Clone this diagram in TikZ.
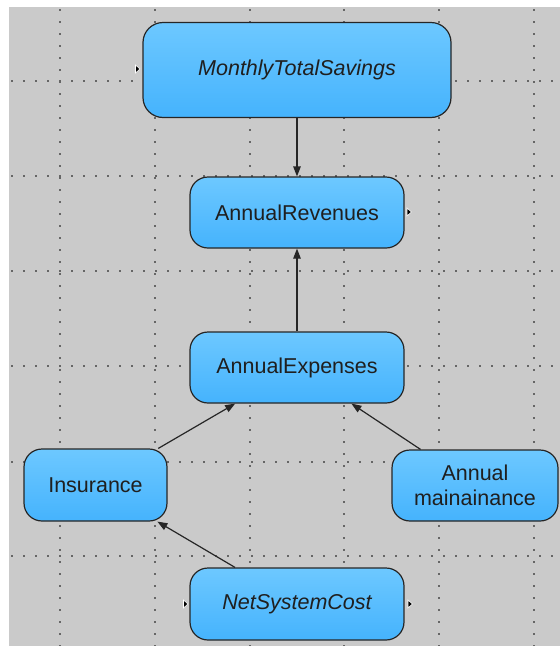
\documentclass[tikz,border=0pt]{standalone}
\usepackage{fontspec}
\setmainfont{Liberation Sans}
\usetikzlibrary{arrows.meta}

\definecolor{canvasgray}{HTML}{CACACA}
\definecolor{boxtop}{HTML}{6DC8FF}
\definecolor{boxbottom}{HTML}{45B3FD}
\definecolor{boxline}{HTML}{262626}

\tikzset{
  varbox/.style={draw=boxline, line width=1.2pt, rounded corners=18pt,
    top color=boxtop, bottom color=boxbottom, align=center,
    text=black!88, font=\fontsize{21.5}{25}\selectfont,
    minimum width=214pt, minimum height=71pt, inner sep=0pt},
  gridline/.style={black!60, line width=1.2pt, dash pattern=on 1.2pt off 10.8pt},
  link/.style={boxline, line width=1.2pt, -{Triangle[length=10pt,width=7.5pt]}},
  port/.style={fill=black, draw=white, line width=0.6pt}
}

\begin{document}
\begin{tikzpicture}[x=1pt,y=-1pt]
    \useasboundingbox (0,0) rectangle (560,646);

    % Canvas
    \fill[canvasgray] (9,7) rectangle (560,646);

    % Dotted grid
    \foreach \gx in {60,155,250,344,439,534}
        \draw[gridline] (\gx,9.4) -- (\gx,646);
    \foreach \gy in {81,176,271,366,462,556}
        \draw[gridline] (11.4,\gy) -- (560,\gy);

    % Variables
    \node[varbox, minimum width=308pt, minimum height=95pt, rounded corners=20pt]
        (savings) at (297,70) {\itshape MonthlyTotalSavings};
    \node[varbox] (revenues) at (297,212.5) {AnnualRevenues};
    \node[varbox] (expenses) at (297,367.5) {AnnualExpenses};
    \node[varbox, minimum width=143pt, minimum height=72pt] (insurance) at (95.5,485) {Insurance};
    \node[varbox, minimum width=166pt] (maint) at (475,485.5) {Annual\\mainainance};
    \node[varbox, minimum height=72pt] (netcost) at (297,604) {\itshape NetSystemCost};

    % Links
    \draw[link] (savings) -- (revenues);
    \draw[link] (expenses) -- (revenues);
    \draw[link] (insurance) -- (expenses);
    \draw[link] (maint) -- (expenses);
    \draw[link] (netcost) -- (insurance);

    % Port markers
    \filldraw[port] (135.5,65) -- (140,69) -- (135.5,73) -- cycle;
    \filldraw[port] (407,208) -- (411.5,212) -- (407,216) -- cycle;
    \filldraw[port] (183.5,600) -- (188,604) -- (183.5,608) -- cycle;
    \filldraw[port] (408,600) -- (412.5,604) -- (408,608) -- cycle;
\end{tikzpicture}
\end{document}
